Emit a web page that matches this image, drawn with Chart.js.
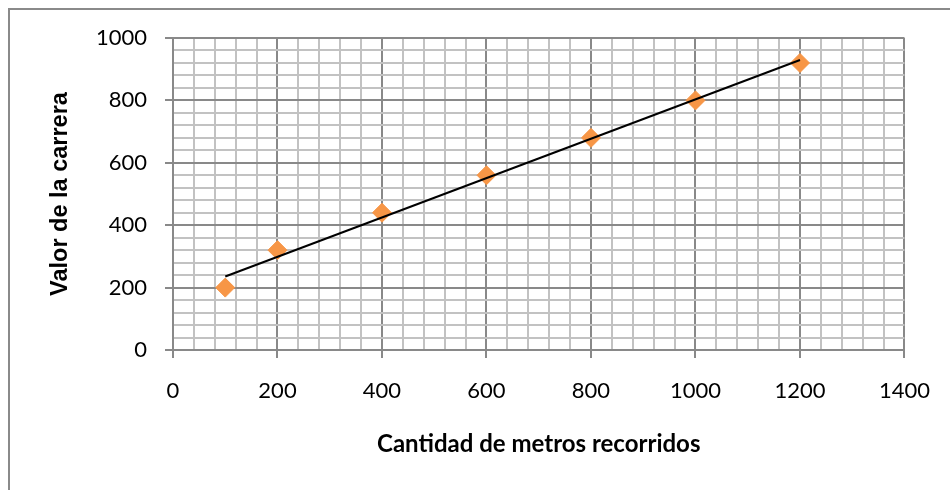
<!DOCTYPE html>
<html>
<head>
<meta charset="utf-8">
<script src="https://cdn.jsdelivr.net/npm/chart.js@4/dist/chart.umd.min.js"></script>
<style>
  html, body { margin: 0; padding: 0; background: #ffffff; }
  #wrap { width: 950px; height: 490px; position: relative; }
</style>
</head>
<body>
<div id="wrap"><canvas id="c" width="950" height="490"></canvas></div>
<script>
// Distance travelled (m) and fare
const metros = [100, 200, 400, 600, 800, 1000, 1200];
const valores = [200, 320, 440, 560, 680, 800, 920];

// Axis ranges: labelled every 200, minor grid every 40
const xRange = [0, 1400];
const yRange = [0, 1000];
const majorStep = 200;
const minorStep = 40;

const xTitle = 'Cantidad de metros recorridos';
const yTitle = 'Valor de la carrera';

// Least-squares linear trend over the measured points
function linearFit(xs, ys) {
  const n = xs.length;
  const mx = xs.reduce((a, b) => a + b, 0) / n;
  const my = ys.reduce((a, b) => a + b, 0) / n;
  let sxy = 0, sxx = 0;
  for (let i = 0; i < n; i++) {
    sxy += (xs[i] - mx) * (ys[i] - my);
    sxx += (xs[i] - mx) * (xs[i] - mx);
  }
  const slope = sxy / sxx;
  return x => my + slope * (x - mx);
}
const fit = linearFit(metros, valores);
const xFirst = Math.min(...metros), xLast = Math.max(...metros);
const trend = [{ x: xFirst, y: fit(xFirst) }, { x: xLast, y: fit(xLast) }];
const points = metros.map((m, i) => ({ x: m, y: valores[i] }));

const isMajor = v => Math.abs(v % majorStep) < 1e-9;
const MAJOR = '#898989';
const MINOR = '#c2c2c2';

const frame = {
  id: 'frame',
  beforeDraw(chart) {
    const ctx = chart.ctx;
    ctx.save();
    ctx.fillStyle = '#ffffff';
    ctx.fillRect(0, 0, chart.width, chart.height);
    ctx.strokeStyle = '#8a8a8a';
    ctx.lineWidth = 2;
    ctx.strokeRect(9, 9, 2000, 2000);
    ctx.restore();
  }
};

function gridOpts() {
  return {
    color: c => isMajor(c.tick.value) ? MAJOR : MINOR,
    lineWidth: 2,
    tickColor: c => isMajor(c.tick.value) ? MAJOR : 'rgba(0,0,0,0)',
    tickLength: 8,
    drawTicks: true
  };
}

new Chart(document.getElementById('c'), {
  type: 'scatter',
  data: {
    datasets: [
      {
        type: 'line',
        data: trend,
        borderColor: '#000000',
        borderWidth: 2,
        pointRadius: 0,
        fill: false,
        order: 0
      },
      {
        data: points,
        pointStyle: 'rectRot',
        pointRadius: 9.5,
        pointHoverRadius: 9.5,
        backgroundColor: '#f79646',
        borderColor: '#f79646',
        borderWidth: 1,
        order: 1
      }
    ]
  },
  options: {
    responsive: false,
    animation: false,
    events: [],
    layout: { padding: { top: 38, right: 45, left: 0, bottom: 0 } },
    plugins: { legend: { display: false }, tooltip: { enabled: false } },
    scales: {
      x: {
        type: 'linear',
        min: xRange[0],
        max: xRange[1],
        afterFit: s => { s.height = 140; },
        ticks: {
          stepSize: minorStep,
          autoSkip: false,
          maxRotation: 0,
          padding: 20,
          color: '#000000',
          font: { family: 'Lato', size: 22 },
          callback: v => isMajor(v) ? String(v) : ''
        },
        grid: gridOpts(),
        border: { color: MAJOR, width: 2 },
        title: {
          display: true,
          text: xTitle,
          color: '#000000',
          font: { family: 'Lato', size: 24, weight: 'bold' },
          padding: { top: 0, bottom: 31 }
        }
      },
      y: {
        type: 'linear',
        min: yRange[0],
        max: yRange[1],
        afterFit: s => { s.width = 173; },
        ticks: {
          stepSize: minorStep,
          autoSkip: false,
          padding: 18,
          color: '#000000',
          font: { family: 'Lato', size: 22 },
          callback: v => isMajor(v) ? String(v) : ''
        },
        grid: gridOpts(),
        border: { color: MAJOR, width: 2 },
        title: {
          display: true,
          text: yTitle,
          color: '#000000',
          font: { family: 'Liberation Sans', size: 23.5, weight: 'bold' },
          padding: { top: 46, bottom: 0 }
        }
      }
    }
  },
  plugins: [frame]
});
</script>
</body>
</html>
